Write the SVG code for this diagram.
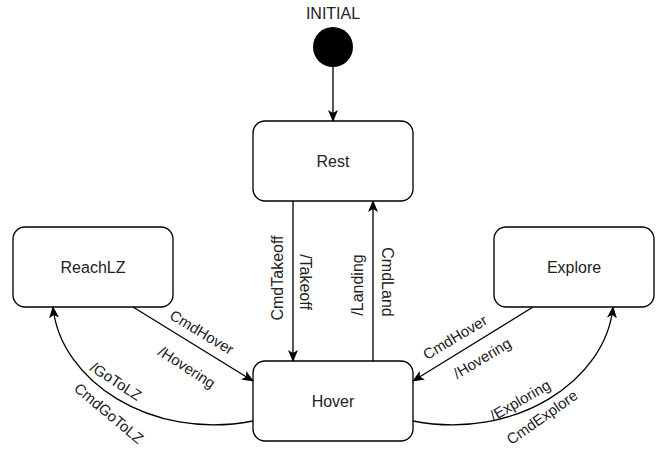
<svg xmlns="http://www.w3.org/2000/svg" width="664" height="450" viewBox="0 0 664 450">
<defs>
<marker id="arr" markerUnits="userSpaceOnUse" markerWidth="12" markerHeight="10" viewBox="0 0 12 10" refX="11" refY="5" orient="auto">
<path d="M0,0 L12,5 L0,10 L3,5 z" fill="#000"/>
</marker>
</defs>
<style>
.box{fill:#fff;stroke:#000;stroke-width:1.33}
.t{font-family:"Liberation Sans",Arial,sans-serif;font-size:16px;fill:#222;text-anchor:middle;dominant-baseline:central}
.l{font-size:15px}
.e{fill:none;stroke:#000;stroke-width:1.33}
</style>
<rect width="664" height="450" fill="#fff"/>
<g id="initial">
<text class="t" x="333" y="13">INITIAL</text>
<circle cx="333" cy="47" r="20" fill="#000"/>
</g>
<g id="rest">
<rect class="box" x="253" y="121" width="160" height="80" rx="12"/>
<text class="t" x="333" y="161">Rest</text>
</g>
<g id="hover">
<rect class="box" x="253" y="361" width="160" height="80" rx="12"/>
<text class="t" x="333" y="401">Hover</text>
</g>
<g id="reachlz">
<rect class="box" x="13" y="227" width="160" height="80" rx="12"/>
<text class="t" x="93" y="267">ReachLZ</text>
</g>
<g id="explore">
<rect class="box" x="494" y="227" width="160" height="80" rx="12"/>
<text class="t" x="574" y="267">Explore</text>
</g>
<g id="connectors">
<path class="e" d="M333,67 L333,121" marker-end="url(#arr)"/>
<path class="e" d="M293,201 L293,361" marker-end="url(#arr)"/>
<path class="e" d="M373,361 L373,201" marker-end="url(#arr)"/>
<path class="e" d="M133,307 L253,381" marker-end="url(#arr)"/>
<path class="e" d="M533,307 L413,381" marker-end="url(#arr)"/>
<path class="e" d="M253,421 C150,441 60,380 53,307" marker-end="url(#arr)"/>
<path class="e" d="M413,421 C516,441 606,380 613,307" marker-end="url(#arr)"/>
<text class="t" transform="translate(277,278) rotate(-90)">CmdTakeoff</text>
<text class="t" transform="translate(305,282) rotate(90)">/Takeoff</text>
<text class="t" transform="translate(357,285) rotate(-90)">/Landing</text>
<text class="t" transform="translate(387,282) rotate(90)">CmdLand</text>
<text class="t l" transform="translate(202,332) rotate(31)">CmdHover</text>
<text class="t l" transform="translate(187,367) rotate(33)">/Hovering</text>
<text class="t l" transform="translate(455,337) rotate(-31)">CmdHover</text>
<text class="t l" transform="translate(482,358) rotate(-31)">/Hovering</text>
<text class="t l" transform="translate(116,381) rotate(33)">/GoToLZ</text>
<text class="t l" transform="translate(109,413) rotate(40)">CmdGoToLZ</text>
<text class="t l" transform="translate(520,400) rotate(-30)">/Exploring</text>
<text class="t l" transform="translate(542,417) rotate(-35)">CmdExplore</text>
</g>
</svg>
